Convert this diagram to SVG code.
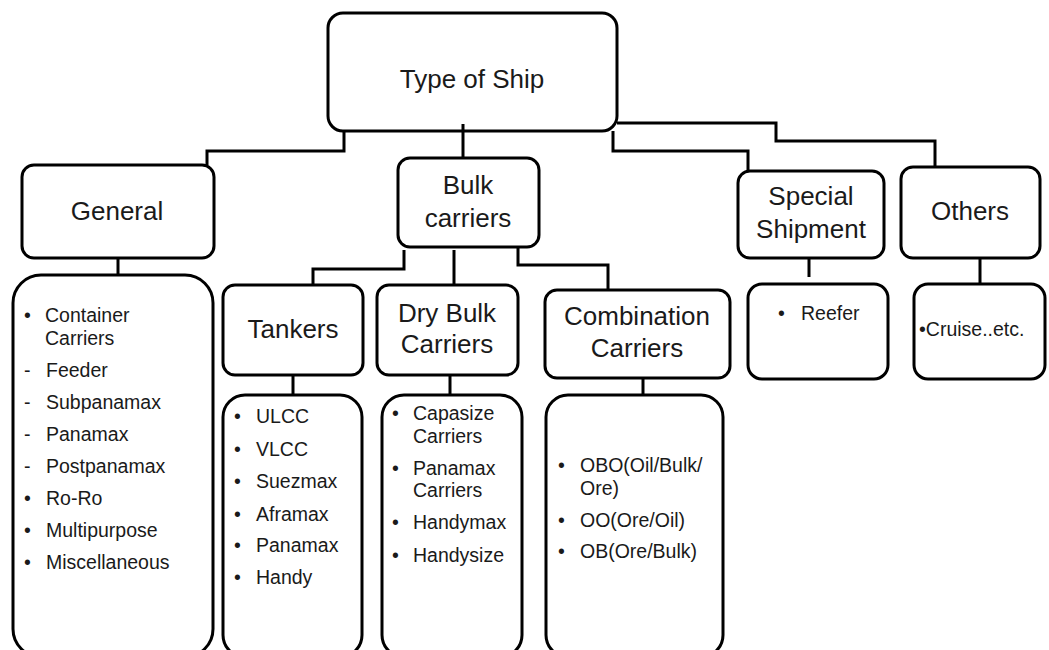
<svg xmlns="http://www.w3.org/2000/svg" width="1049" height="650" viewBox="0 0 1049 650">
<style>
.box{fill:#fff;stroke:#000;stroke-width:3}
.conn{fill:none;stroke:#000;stroke-width:3}
.h{font-family:"Liberation Sans",Arial,sans-serif;font-size:26px;fill:#1a1a1a;text-anchor:middle}
.l{font-family:"Liberation Sans",Arial,sans-serif;font-size:19.5px;fill:#1a1a1a}
</style>
<rect width="1049" height="650" fill="#fff"/>
<g id="node-root"><rect class="box" x="328" y="13" width="289" height="118" rx="15"/><text class="h" x="472" y="88">Type of Ship</text></g>
<g id="node-general"><rect class="box" x="22" y="165" width="192" height="93" rx="12"/><text class="h" x="117" y="220">General</text></g>
<g id="node-bulk"><rect class="box" x="398" y="158" width="141" height="89" rx="12"/><text class="h" x="468" y="194">Bulk</text><text class="h" x="468" y="227">carriers</text></g>
<g id="node-special"><rect class="box" x="738" y="171" width="146" height="87" rx="12"/><text class="h" x="811" y="205">Special</text><text class="h" x="811" y="238">Shipment</text></g>
<g id="node-others"><rect class="box" x="901" y="167" width="139" height="91" rx="12"/><text class="h" x="970" y="220">Others</text></g>
<g id="node-tankers"><rect class="box" x="223" y="285" width="140" height="90" rx="12"/><text class="h" x="293" y="338">Tankers</text></g>
<g id="node-drybulk"><rect class="box" x="377" y="285" width="141" height="90" rx="12"/><text class="h" x="447" y="322">Dry Bulk</text><text class="h" x="447" y="353">Carriers</text></g>
<g id="node-combination"><rect class="box" x="545" y="290" width="185" height="88" rx="12"/><text class="h" x="637" y="325">Combination</text><text class="h" x="637" y="357">Carriers</text></g>
<g id="node-general-list"><rect class="box" x="13" y="275" width="200" height="382" rx="28"/>
<text class="l" x="24" y="322">•</text><text class="l" x="45" y="322">Container</text><text class="l" x="45" y="345">Carriers</text>
<text class="l" x="24" y="377">-</text><text class="l" x="46" y="377">Feeder</text>
<text class="l" x="24" y="409">-</text><text class="l" x="46" y="409">Subpanamax</text>
<text class="l" x="24" y="441">-</text><text class="l" x="46" y="441">Panamax</text>
<text class="l" x="24" y="473">-</text><text class="l" x="46" y="473">Postpanamax</text>
<text class="l" x="24" y="505">•</text><text class="l" x="46" y="505">Ro-Ro</text>
<text class="l" x="24" y="537">•</text><text class="l" x="46" y="537">Multipurpose</text>
<text class="l" x="24" y="569">•</text><text class="l" x="46" y="569">Miscellaneous</text>
</g>
<g id="node-tankers-list"><rect class="box" x="223" y="395" width="139" height="262" rx="22"/>
<text class="l" x="234" y="423">•</text><text class="l" x="256" y="423">ULCC</text>
<text class="l" x="234" y="456">•</text><text class="l" x="256" y="456">VLCC</text>
<text class="l" x="234" y="488">•</text><text class="l" x="256" y="488">Suezmax</text>
<text class="l" x="234" y="521">•</text><text class="l" x="256" y="521">Aframax</text>
<text class="l" x="234" y="552">•</text><text class="l" x="256" y="552">Panamax</text>
<text class="l" x="234" y="584">•</text><text class="l" x="256" y="584">Handy</text>
</g>
<g id="node-drybulk-list"><rect class="box" x="382" y="395" width="140" height="262" rx="22"/>
<text class="l" x="392" y="420">•</text><text class="l" x="413" y="420">Capasize</text><text class="l" x="413" y="443">Carriers</text>
<text class="l" x="392" y="475">•</text><text class="l" x="413" y="475">Panamax</text><text class="l" x="413" y="497">Carriers</text>
<text class="l" x="392" y="529">•</text><text class="l" x="413" y="529">Handymax</text>
<text class="l" x="392" y="562">•</text><text class="l" x="413" y="562">Handysize</text>
</g>
<g id="node-combination-list"><rect class="box" x="546" y="395" width="177" height="262" rx="22"/>
<text class="l" x="558" y="472">•</text><text class="l" x="580" y="472">OBO(Oil/Bulk/</text><text class="l" x="580" y="495">Ore)</text>
<text class="l" x="558" y="527">•</text><text class="l" x="580" y="527">OO(Ore/Oil)</text>
<text class="l" x="558" y="558">•</text><text class="l" x="580" y="558">OB(Ore/Bulk)</text>
</g>
<g id="node-reefer"><rect class="box" x="748" y="284" width="140" height="95" rx="14"/>
<text class="l" x="778" y="320">•</text><text class="l" x="801" y="320">Reefer</text></g>
<g id="node-cruise"><rect class="box" x="914" y="284" width="131" height="95" rx="14"/>
<text class="l" x="919" y="336">•Cruise..etc.</text></g>
<g id="connectors">
<path class="conn" d="M344,131 V151 H207 V165"/>
<path class="conn" d="M463,124 V158"/>
<path class="conn" d="M617,123 H776 V141 H935 V167"/>
<path class="conn" d="M613,131 V151 H748 V171"/>
<path class="conn" d="M404,250 V269 H313 V285"/>
<path class="conn" d="M454,250 V285"/>
<path class="conn" d="M518,248 V265 H608 V290"/>
<path class="conn" d="M118,258 V275"/>
<path class="conn" d="M293,375 V395"/>
<path class="conn" d="M450,375 V395"/>
<path class="conn" d="M643,378 V395"/>
<path class="conn" d="M809,258 V277"/>
<path class="conn" d="M980,258 V284"/>
</g>
</svg>
